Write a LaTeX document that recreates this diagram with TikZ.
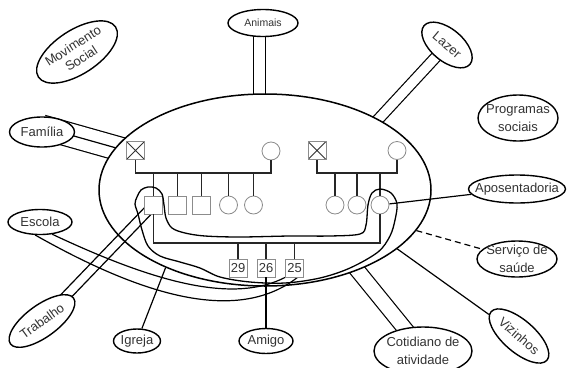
\documentclass[tikz,border=0pt]{standalone}
\usepackage{fontspec}
\newfontfamily\labelfont{Liberation Sans}
\usetikzlibrary{shapes.geometric, backgrounds, calc}

\tikzset{
  tie/.style={ellipse, draw, line width=1.4pt, fill=white, inner sep=-20pt,
    font=\labelfont\fontsize{13}{18}\selectfont, text=black!80, align=center},
  link/.style={line width=1.2pt},
  strong/.style={link, double, double distance=#1},
  kin/.style={line width=1.2pt, black!85},
  male/.style={rectangle, draw=gray!90, line width=0.8pt, fill=white, minimum size=18pt, inner sep=0pt},
  female/.style={circle, draw=gray!90, line width=0.8pt, fill=white, minimum size=18pt, inner sep=0pt},
  dead/.style={male, path picture={
    \draw[black!80, line width=0.9pt]
      (path picture bounding box.north west) -- (path picture bounding box.south east)
      (path picture bounding box.north east) -- (path picture bounding box.south west);}},
  age/.style={male, font=\labelfont\fontsize{13}{13}\selectfont, text=black!80},
}

\begin{document}
\begin{tikzpicture}[x=1pt, y=-1pt]
\useasboundingbox (0,0) rectangle (567,367);

% ecomapa
\node[draw, ellipse, line width=1.5pt, minimum width=332pt, minimum height=192pt, inner sep=0pt] (eco) at (265,190) {};

% genograma
\node[dead] (m1) at (135.5,150.5) {};
\node[female] (f1) at (271,151) {};
\node[dead] (m2) at (317,150.5) {};
\node[female] (f2) at (397,150.5) {};
\node[male] (s1) at (153.5,205) {};
\node[male] (s2) at (177.5,205) {};
\node[male] (s3) at (201.5,205) {};
\node[female] (d1) at (228.5,205) {};
\node[female] (d2) at (253.5,205) {};
\node[female] (r1) at (335,205) {};
\node[female] (r2) at (357,205) {};
\node[female] (r3) at (380,205) {};
\node[age] (g29) at (238,268) {29};
\node[age] (g26) at (266,268) {26};
\node[age] (g25) at (294.5,268) {25};

\coordinate (u1) at (200,173);
\coordinate (u2) at (357,173);
\coordinate (u3) at (266,243);
\draw[kin] (m1) |- (u1) -| (f1);
\foreach \k in {s1,s2,s3,d1,d2} \draw[kin] (\k) -- (\k |- u1);
\draw[kin] (m2) |- (u2) -| (f2);
\foreach \k in {r1,r2,r3} \draw[kin] (\k) -- (\k |- u2);
\draw[kin] (s1) |- (u3) -| (r3);
\foreach \k in {g29,g26,g25} \draw[kin] (\k) -- (\k |- u3);

% casa
\draw[line width=1.3pt] plot[smooth cycle, tension=0.55] coordinates {
  (137,197) (141,190) (148,187) (156,188) (162,194) (164,205) (166,218) (172,228)
  (185,233) (205,236) (240,237) (290,236) (330,236) (360,234) (366,225) (368,205)
  (372,193) (380,189) (391,193) (397,204) (395,220) (390,236) (378,252) (350,268)
  (320,278) (285,283) (250,282) (220,277) (200,268) (180,262) (160,256) (148,246)
  (142,230) (138,214) (135,204)};

% redes
\node[tie, minimum width=92pt, minimum height=44pt, rotate=33] (mov) at (77,52) {Movimento\\[-3pt]Social};
\node[tie, minimum width=70pt, minimum height=27pt, font=\labelfont\fontsize{10.5}{12}\selectfont] (ani) at (263,23) {Animais};
\node[tie, minimum width=60pt, minimum height=32pt, rotate=-40] (laz) at (447,45) {Lazer};
\node[tie, minimum width=80pt, minimum height=46pt] (prog) at (518,118) {Programas\\sociais};
\node[tie, minimum width=65pt, minimum height=30pt] (fam) at (42,132) {Família};
\node[tie, minimum width=97pt, minimum height=28pt] (apo) at (517,189) {Aposentadoria};
\node[tie, minimum width=64pt, minimum height=25pt] (esc) at (40,222) {Escola};
\node[tie, minimum width=80pt, minimum height=36pt] (sau) at (517,259) {Serviço de\\saúde};
\node[tie, minimum width=78pt, minimum height=32pt, rotate=36] (trab) at (42,321) {Trabalho};
\node[tie, minimum width=47pt, minimum height=24pt] (igr) at (137,341) {Igreja};
\node[tie, minimum width=54pt, minimum height=25pt] (ami) at (266,341) {Amigo};
\node[tie, minimum width=98pt, minimum height=48pt] (cot) at (423,351) {Cotidiano de\\atividade};
\node[tie, minimum width=74pt, minimum height=32pt, rotate=-41] (viz) at (519,336) {Vizinhos};

\draw[link] (r3) -- (apo);
\draw[link] (eco.-24) -- (viz);
\draw[link, dash pattern=on 6pt off 4pt] (eco.-15) -- (sau);
\draw[link] (igr) -- (eco.-142);
\draw[link] (g26) -- (ami);

\begin{scope}[on background layer]
  \begin{scope}[even odd rule]
    \clip (0,0) rectangle (567,367) (eco.center) ellipse [x radius=166, y radius=96];
    \draw[strong=22.8pt] ([yshift=5pt]fam.center) -- (eco.center);
    \draw[link] ([yshift=5pt]fam.center) -- (eco.center);
    \draw[strong=11pt] ([xshift=-3.5pt]ani.center) -- ([xshift=-3.5pt]ani.center |- eco.center);
    \draw[strong=9.5pt] (laz.center) -- ($(laz.center)!1.5!(eco.32)$);
    \draw[strong=14pt] (cot.center) -- ($(cot.center)!1.5!(eco.-41)$);
  \end{scope}
  \draw[link] ($(trab.center)!4.7pt!90:(s1.center)$) -- ($(s1.center)!4.7pt!-90:(trab.center)$);
  \draw[link] ($(trab.center)!4.7pt!-90:(s1.center)$) -- ($(s1.center)!4.7pt!90:(trab.center)$);
  \draw[link] (esc.-45) .. controls (160,285) and (235,303) .. (g25.south west);
  \draw[link] (esc.-110) .. controls (150,300) and (240,322) .. ([xshift=3pt]g25.south);
\end{scope}
\end{tikzpicture}
\end{document}
